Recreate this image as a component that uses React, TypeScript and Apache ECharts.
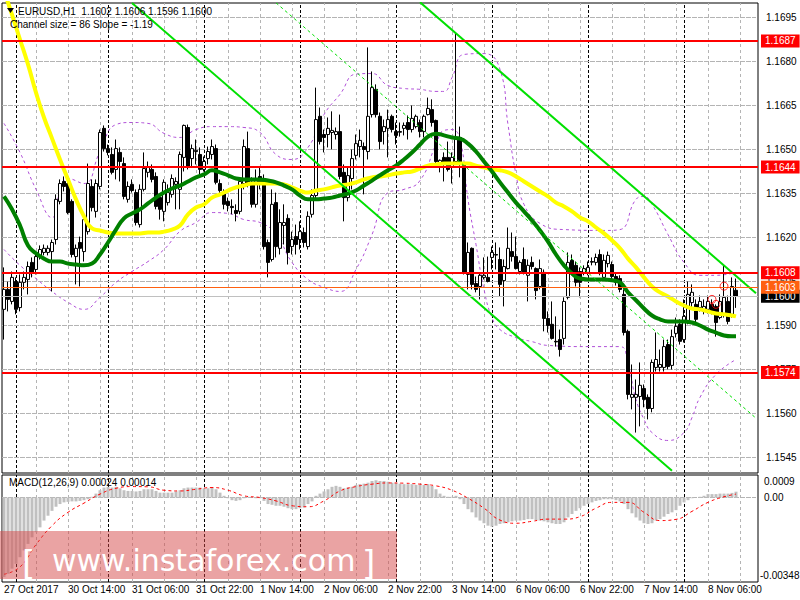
import { useEffect, useRef } from 'react';
import * as echarts from 'echarts';

// ---------- data ----------
const tradingDays: [string, number, number][] = [
  ['27 Oct', 21, 23], ['30 Oct', 1, 23], ['31 Oct', 0, 23], ['1 Nov', 0, 23], ['2 Nov', 0, 23],
  ['3 Nov', 0, 23], ['6 Nov', 0, 23], ['7 Nov', 0, 23], ['8 Nov', 0, 18],
];
const firstDateLabel = '27 Oct 2017';

const opens = [
  1.15955, 1.16023, 1.15982, 1.16050, 1.15961, 1.16047, 1.16057, 1.16115, 1.16091, 1.16135,
  1.16149, 1.16149, 1.16152, 1.16193, 1.16323, 1.16391, 1.16384, 1.16323, 1.16135, 1.16183,
  1.16152, 1.16220, 1.16374, 1.16289, 1.16374, 1.16572, 1.16503, 1.16483, 1.16432, 1.16490,
  1.16452, 1.16330, 1.16381, 1.16353, 1.16244, 1.16364, 1.16422, 1.16432, 1.16408, 1.16336,
  1.16289, 1.16319, 1.16347, 1.16381, 1.16364, 1.16473, 1.16575, 1.16469, 1.16493, 1.16483,
  1.16432, 1.16469, 1.16483, 1.16503, 1.16384, 1.16353, 1.16323, 1.16306, 1.16292, 1.16289,
  1.16384, 1.16503, 1.16388, 1.16313, 1.16408, 1.16401, 1.16183, 1.16125, 1.16319, 1.16163,
  1.16241, 1.16265, 1.16169, 1.16203, 1.16193, 1.16217, 1.16169, 1.16279, 1.16343, 1.16613,
  1.16551, 1.16551, 1.16558, 1.16551, 1.16561, 1.16422, 1.16336, 1.16401, 1.16480, 1.16510,
  1.16510, 1.16493, 1.16619, 1.16705, 1.16613, 1.16561, 1.16572, 1.16613, 1.16561, 1.16561,
  1.16572, 1.16592, 1.16568, 1.16578, 1.16592, 1.16561, 1.16619, 1.16636, 1.16599, 1.16452,
  1.16473, 1.16473, 1.16442, 1.16459, 1.16541, 1.16449, 1.16074, 1.16163, 1.16043, 1.16033,
  1.16064, 1.16064, 1.16132, 1.16142, 1.16125, 1.16053, 1.16094, 1.16152, 1.16135, 1.16084,
  1.16125, 1.16071, 1.16115, 1.16094, 1.16033, 1.16081, 1.15924, 1.15904, 1.15846, 1.15852,
  1.15856, 1.15996, 1.16122, 1.16105, 1.16084, 1.16081, 1.16081, 1.16118, 1.16115, 1.16142,
  1.16064, 1.16111, 1.16108, 1.16067, 1.16060, 1.16006, 1.15880, 1.15655, 1.15655, 1.15658,
  1.15685, 1.15655, 1.15617, 1.15757, 1.15757, 1.15757, 1.15835, 1.15764, 1.15873, 1.15904,
  1.15852, 1.15914, 1.15978, 1.15972, 1.15961, 1.15948, 1.15955, 1.15972, 1.15965, 1.15927,
  1.15938, 1.15982, 1.15938, 1.16020,
];
const closes = [
  1.16023, 1.15989, 1.16064, 1.15955, 1.16047, 1.16064, 1.16101, 1.16081, 1.16135, 1.16159,
  1.16163, 1.16163, 1.16183, 1.16330, 1.16384, 1.16374, 1.16285, 1.16142, 1.16163, 1.16163,
  1.16261, 1.16384, 1.16302, 1.16384, 1.16558, 1.16503, 1.16490, 1.16422, 1.16503, 1.16459,
  1.16340, 1.16374, 1.16360, 1.16251, 1.16364, 1.16435, 1.16442, 1.16398, 1.16306, 1.16296,
  1.16388, 1.16353, 1.16401, 1.16391, 1.16483, 1.16582, 1.16442, 1.16503, 1.16497, 1.16432,
  1.16459, 1.16493, 1.16510, 1.16388, 1.16360, 1.16313, 1.16309, 1.16302, 1.16282, 1.16391,
  1.16510, 1.16384, 1.16313, 1.16394, 1.16381, 1.16169, 1.16115, 1.16313, 1.16169, 1.16251,
  1.16251, 1.16149, 1.16193, 1.16176, 1.16220, 1.16183, 1.16272, 1.16343, 1.16602, 1.16527,
  1.16541, 1.16572, 1.16565, 1.16561, 1.16408, 1.16336, 1.16411, 1.16469, 1.16520, 1.16531,
  1.16500, 1.16613, 1.16711, 1.16619, 1.16527, 1.16578, 1.16602, 1.16568, 1.16548, 1.16559,
  1.16582, 1.16568, 1.16606, 1.16613, 1.16561, 1.16613, 1.16640, 1.16592, 1.16459, 1.16463,
  1.16456, 1.16432, 1.16473, 1.16541, 1.16449, 1.16081, 1.16149, 1.16040, 1.16023, 1.16071,
  1.16071, 1.16050, 1.16149, 1.16140, 1.16040, 1.16101, 1.16163, 1.16135, 1.16094, 1.16115,
  1.16081, 1.16105, 1.16101, 1.16019, 1.16094, 1.15924, 1.15900, 1.15856, 1.15844, 1.15818,
  1.15982, 1.16115, 1.16081, 1.16047, 1.16047, 1.16094, 1.16098, 1.16116, 1.16132, 1.16081,
  1.16122, 1.16139, 1.16067, 1.16047, 1.16023, 1.15876, 1.15665, 1.15665, 1.15665, 1.15696,
  1.15648, 1.15617, 1.15774, 1.15784, 1.15767, 1.15828, 1.15760, 1.15862, 1.15897, 1.15846,
  1.15931, 1.16006, 1.16013, 1.15921, 1.15982, 1.15965, 1.15982, 1.15948, 1.15910, 1.15982,
  1.15996, 1.15914, 1.16033, 1.16000,
];
const highs = [
  1.16098, 1.16050, 1.16084, 1.16064, 1.16074, 1.16084, 1.16118, 1.16132, 1.16152, 1.16173,
  1.16176, 1.16173, 1.16193, 1.16347, 1.16398, 1.16408, 1.16415, 1.16330, 1.16176, 1.16203,
  1.16279, 1.16452, 1.16398, 1.16398, 1.16568, 1.16582, 1.16517, 1.16507, 1.16534, 1.16507,
  1.16473, 1.16391, 1.16398, 1.16364, 1.16381, 1.16490, 1.16459, 1.16449, 1.16422, 1.16347,
  1.16398, 1.16381, 1.16415, 1.16405, 1.16493, 1.16585, 1.16585, 1.16517, 1.16534, 1.16507,
  1.16476, 1.16510, 1.16534, 1.16517, 1.16398, 1.16364, 1.16336, 1.16330, 1.16313, 1.16405,
  1.16534, 1.16561, 1.16405, 1.16432, 1.16439, 1.16415, 1.16193, 1.16364, 1.16353, 1.16296,
  1.16313, 1.16279, 1.16220, 1.16244, 1.16255, 1.16234, 1.16289, 1.16364, 1.16711, 1.16643,
  1.16568, 1.16609, 1.16630, 1.16575, 1.16619, 1.16449, 1.16439, 1.16500, 1.16551, 1.16568,
  1.16524, 1.16848, 1.16766, 1.16722, 1.16626, 1.16602, 1.16636, 1.16619, 1.16592, 1.16592,
  1.16592, 1.16616, 1.16650, 1.16619, 1.16602, 1.16619, 1.16677, 1.16671, 1.16602, 1.16466,
  1.16490, 1.16527, 1.16490, 1.16899, 1.16578, 1.16456, 1.16183, 1.16166, 1.16067, 1.16081,
  1.16132, 1.16135, 1.16169, 1.16183, 1.16166, 1.16125, 1.16234, 1.16217, 1.16203, 1.16122,
  1.16166, 1.16125, 1.16135, 1.16098, 1.16125, 1.16091, 1.15948, 1.15982, 1.15931, 1.15886,
  1.15996, 1.16149, 1.16142, 1.16118, 1.16098, 1.16105, 1.16118, 1.16132, 1.16145, 1.16159,
  1.16142, 1.16152, 1.16118, 1.16077, 1.16071, 1.16023, 1.15886, 1.15767, 1.15716, 1.15774,
  1.15699, 1.15665, 1.15784, 1.15876, 1.15818, 1.15852, 1.15852, 1.15886, 1.15927, 1.15921,
  1.15989, 1.16050, 1.16040, 1.15989, 1.16002, 1.15989, 1.16002, 1.15989, 1.15972, 1.16006,
  1.16105, 1.16002, 1.16064, 1.16060,
];
const lows = [
  1.15852, 1.15948, 1.15972, 1.15938, 1.15948, 1.16023, 1.16006, 1.16064, 1.16074, 1.16125,
  1.16139, 1.16139, 1.16016, 1.16176, 1.16313, 1.16357, 1.16279, 1.16132, 1.16040, 1.16033,
  1.16118, 1.16210, 1.16289, 1.16268, 1.16364, 1.16493, 1.16480, 1.16415, 1.16398, 1.16391,
  1.16330, 1.16319, 1.16353, 1.16241, 1.16234, 1.16357, 1.16405, 1.16388, 1.16296, 1.16261,
  1.16255, 1.16309, 1.16336, 1.16296, 1.16296, 1.16425, 1.16432, 1.16439, 1.16449, 1.16415,
  1.16425, 1.16449, 1.16466, 1.16381, 1.16347, 1.16296, 1.16289, 1.16279, 1.16255, 1.16279,
  1.16364, 1.16371, 1.16302, 1.16302, 1.16364, 1.16159, 1.16064, 1.16118, 1.16132, 1.16142,
  1.16176, 1.16108, 1.16142, 1.16142, 1.16159, 1.16166, 1.16159, 1.16268, 1.16330, 1.16517,
  1.16490, 1.16507, 1.16500, 1.16534, 1.16398, 1.16255, 1.16323, 1.16364, 1.16466, 1.16473,
  1.16347, 1.16466, 1.16609, 1.16609, 1.16500, 1.16517, 1.16473, 1.16558, 1.16517, 1.16544,
  1.16548, 1.16534, 1.16558, 1.16572, 1.16541, 1.16541, 1.16616, 1.16578, 1.16442, 1.16422,
  1.16391, 1.16425, 1.16384, 1.16449, 1.16405, 1.16074, 1.16023, 1.16023, 1.16013, 1.15989,
  1.16057, 1.16047, 1.16091, 1.16091, 1.15999, 1.15965, 1.16091, 1.16118, 1.16091, 1.16074,
  1.16074, 1.15982, 1.16091, 1.15989, 1.16023, 1.15880, 1.15876, 1.15852, 1.15828, 1.15794,
  1.15835, 1.15989, 1.16071, 1.16033, 1.15996, 1.16071, 1.16071, 1.16105, 1.16105, 1.16071,
  1.16057, 1.16098, 1.16057, 1.16036, 1.16013, 1.15866, 1.15648, 1.15614, 1.15535, 1.15556,
  1.15621, 1.15580, 1.15604, 1.15743, 1.15743, 1.15743, 1.15750, 1.15750, 1.15859, 1.15835,
  1.15842, 1.15904, 1.15955, 1.15910, 1.15948, 1.15938, 1.15941, 1.15938, 1.15862, 1.15921,
  1.15927, 1.15904, 1.15927, 1.15960,
];

// moving averages, read every second bar (last value = last bar)
const maSlow = [
  1.17042, 1.16960, 1.16875, 1.16790, 1.16694, 1.16609, 1.16538, 1.16466, 1.16398, 1.16330,
  1.16272, 1.16231, 1.16224, 1.16217, 1.16214, 1.16214, 1.16214, 1.16214, 1.16217, 1.16217,
  1.16220, 1.16227, 1.16241, 1.16279, 1.16302, 1.16313, 1.16336, 1.16347, 1.16360, 1.16371,
  1.16377, 1.16384, 1.16384, 1.16384, 1.16384, 1.16381, 1.16371, 1.16360, 1.16353, 1.16360,
  1.16364, 1.16371, 1.16377, 1.16381, 1.16388, 1.16398, 1.16405, 1.16408, 1.16412, 1.16418,
  1.16422, 1.16425, 1.16435, 1.16445, 1.16449, 1.16452, 1.16452, 1.16452, 1.16452, 1.16445,
  1.16439, 1.16432, 1.16429, 1.16422, 1.16408, 1.16391, 1.16374, 1.16357, 1.16340, 1.16319,
  1.16306, 1.16289, 1.16268, 1.16255, 1.16234, 1.16214, 1.16190, 1.16163, 1.16128, 1.16098,
  1.16064, 1.16033, 1.16013, 1.15999, 1.15982, 1.15968, 1.15958, 1.15955, 1.15948, 1.15941,
  1.15938, 1.15934, 1.15931,
];
const maFast = [
  1.16340, 1.16296, 1.16241, 1.16173, 1.16146, 1.16128, 1.16118, 1.16118, 1.16111, 1.16108,
  1.16105, 1.16111, 1.16142, 1.16183, 1.16227, 1.16265, 1.16282, 1.16296, 1.16316, 1.16336,
  1.16353, 1.16367, 1.16377, 1.16391, 1.16405, 1.16415, 1.16429, 1.16422, 1.16412, 1.16401,
  1.16398, 1.16398, 1.16398, 1.16394, 1.16388, 1.16377, 1.16364, 1.16343, 1.16330, 1.16330,
  1.16333, 1.16336, 1.16343, 1.16350, 1.16360, 1.16377, 1.16394, 1.16412, 1.16429, 1.16445,
  1.16466, 1.16490, 1.16517, 1.16544, 1.16554, 1.16548, 1.16541, 1.16537, 1.16520, 1.16493,
  1.16459, 1.16425, 1.16388, 1.16353, 1.16319, 1.16289, 1.16258, 1.16224, 1.16186, 1.16142,
  1.16105, 1.16077, 1.16060, 1.16057, 1.16057, 1.16057, 1.16054, 1.16047, 1.16013, 1.15986,
  1.15958, 1.15934, 1.15921, 1.15914, 1.15914, 1.15914, 1.15910, 1.15900, 1.15886, 1.15876,
  1.15866, 1.15863, 1.15863,
];

// envelope bands: [bar index, price]
const bandUpper = [
  [0, 1.16589], [4, 1.16490], [8, 1.16364], [12, 1.16268], [14, 1.16357], [16, 1.16401], [20, 1.16384],
  [24, 1.16493], [28, 1.16585], [32, 1.16592], [36, 1.16589], [40, 1.16555], [44, 1.16541], [48, 1.16568],
  [52, 1.16578], [56, 1.16578], [60, 1.16575], [64, 1.16558], [68, 1.16483], [72, 1.16466], [76, 1.16507],
  [80, 1.16619], [84, 1.16688], [88, 1.16757], [92, 1.16759], [96, 1.16718], [100, 1.16708], [104, 1.16705],
  [108, 1.16698], [110, 1.16698], [112, 1.16745], [115, 1.16824], [120, 1.16827], [124, 1.16773],
  [126, 1.16585], [128, 1.16415], [130, 1.16313], [134, 1.16248], [140, 1.16227], [150, 1.16224],
  [154, 1.16227], [158, 1.16330], [160, 1.16340], [162, 1.16313], [166, 1.16210], [170, 1.16115],
  [174, 1.16071], [178, 1.16071], [183, 1.16081],
];
const bandLower = [
  [0, 1.16159], [4, 1.16105], [8, 1.16060], [12, 1.16016], [16, 1.15979], [20, 1.15955], [24, 1.15996],
  [28, 1.16047], [32, 1.16084], [36, 1.16118], [40, 1.16159], [44, 1.16221], [48, 1.16251], [52, 1.16285],
  [56, 1.16282], [60, 1.16261], [64, 1.16251], [68, 1.16210], [72, 1.16115], [76, 1.16057], [80, 1.16030],
  [84, 1.16016], [88, 1.16091], [92, 1.16210], [96, 1.16353], [100, 1.16364], [104, 1.16394], [108, 1.16517],
  [110, 1.16565], [112, 1.16568], [114, 1.16534], [116, 1.16330], [118, 1.16176], [120, 1.16023],
  [122, 1.15927], [124, 1.15886], [128, 1.15859], [132, 1.15845], [136, 1.15832], [146, 1.15828],
  [154, 1.15828], [156, 1.15767], [158, 1.15648], [160, 1.15580], [162, 1.15535], [166, 1.15508],
  [170, 1.15535], [172, 1.15586], [174, 1.15655], [178, 1.15733], [183, 1.15784],
];

// regression channel: [bar index, price] end points
const channelUpper = [[104, 1.17002], [188, 1.16010]];
const channelMiddle = [[68, 1.17000], [188, 1.15584]];
const channelLower = [[32, 1.16999], [167, 1.15405]];

const redLevels = [1.1687, 1.1644, 1.1608, 1.1574];
const pendingLevel = 1.1603;
const bidLevel = 1.16;
const fractalMarks = [[177, 1.15989], [178, 1.15972], [180, 1.16034]];

const priceTicks = [1.1545, 1.156, 1.1575, 1.159, 1.1605, 1.162, 1.1635, 1.165, 1.1665, 1.168, 1.1695];
const macdZero = [0];
const macdAxisLabels = ['0.0009', '0.00', '-0.00348'];

const macdHist = [
  -0.00327, -0.00314, -0.00293, -0.00273, -0.00246, -0.00218, -0.00191, -0.00164, -0.00143, -0.00123,
  -0.00095, -0.00075, -0.00055, -0.00038, -0.00027, -0.00020, -0.00018, -0.00016, -0.00016, -0.00014,
  -0.00011, -0.00007, 0.00003, 0.00016, 0.00030, 0.00041, 0.00044, 0.00041, 0.00044, 0.00038,
  0.00030, 0.00027, 0.00027, 0.00025, 0.00027, 0.00034, 0.00034, 0.00034, 0.00027, 0.00020,
  0.00020, 0.00020, 0.00020, 0.00025, 0.00030, 0.00038, 0.00041, 0.00041, 0.00041, 0.00041,
  0.00038, 0.00038, 0.00041, 0.00034, 0.00020, 0.00007, -0.00003, -0.00011, -0.00014, -0.00011,
  -0.00003, 0.00003, 0.00000, -0.00003, -0.00003, -0.00014, -0.00027, -0.00030, -0.00034, -0.00034,
  -0.00038, -0.00044, -0.00048, -0.00048, -0.00044, -0.00041, -0.00027, -0.00016, 0.00007, 0.00016,
  0.00025, 0.00034, 0.00044, 0.00048, 0.00044, 0.00038, 0.00041, 0.00044, 0.00052, 0.00055,
  0.00057, 0.00061, 0.00068, 0.00071, 0.00068, 0.00068, 0.00065, 0.00061, 0.00059, 0.00057,
  0.00055, 0.00055, 0.00055, 0.00052, 0.00052, 0.00052, 0.00055, 0.00048, 0.00034, 0.00016,
  0.00007, 0.00003, 0.00003, 0.00007, -0.00007, -0.00027, -0.00048, -0.00061, -0.00082, -0.00095,
  -0.00106, -0.00116, -0.00120, -0.00116, -0.00109, -0.00106, -0.00102, -0.00098, -0.00095, -0.00095,
  -0.00093, -0.00089, -0.00089, -0.00093, -0.00095, -0.00098, -0.00102, -0.00106, -0.00109, -0.00109,
  -0.00102, -0.00082, -0.00068, -0.00055, -0.00044, -0.00034, -0.00027, -0.00020, -0.00014, -0.00011,
  -0.00007, -0.00007, -0.00007, -0.00011, -0.00016, -0.00027, -0.00048, -0.00065, -0.00082, -0.00095,
  -0.00106, -0.00109, -0.00106, -0.00095, -0.00089, -0.00079, -0.00068, -0.00061, -0.00052, -0.00034,
  -0.00020, -0.00011, -0.00003, 0.00000, 0.00003, 0.00007, 0.00014, 0.00014, 0.00014, 0.00016,
  0.00016, 0.00016, 0.00019, 0.00024,
];
// signal line read every fourth bar (last value = last bar)
const macdSignal = [
  -0.00316, -0.00286, -0.00194, -0.00116, -0.00061, -0.00023, 0.00014, 0.00038, 0.00045, 0.00044,
  0.00030, 0.00027, 0.00034, 0.00041, 0.00030, 0.00007, 0.00000, -0.00014, -0.00034, -0.00038,
  -0.00014, 0.00027, 0.00045, 0.00055, 0.00060, 0.00059, 0.00055, 0.00048, 0.00030, -0.00003,
  -0.00044, -0.00093, -0.00106, -0.00098, -0.00089, -0.00089, -0.00079, -0.00044, -0.00020, -0.00020,
  -0.00061, -0.00095, -0.00090, -0.00057, -0.00020, 0.00003, 0.00014,
];

// ---------- derived structures ----------
const categories: string[] = [];
const dayStarts: number[] = [];
tradingDays.forEach(([d, a, b], k) => {
  if (k > 0) dayStarts.push(categories.length);
  for (let h = a; h <= b; h++) categories.push(`${d} ${String(h).padStart(2, '0')}:00`);
});
const lastBar = opens.length - 1;
const lastCat = categories.length - 1;
const gridBars: number[] = [];
for (let i = 8; i < categories.length; i += 8) gridBars.push(i);

const candles = opens.map((o, i) => [o, closes[i], lows[i], highs[i]]);
const sparse = (arr: number[], step: number) =>
  arr.map((v, k) => [k < arr.length - 1 ? k * step : lastBar, v]);

const FONT = 'Liberation Sans';

const hLine = (v: number, color: string, width: number, boxColor: string) => ({
  yAxis: v,
  lineStyle: { color, width, type: 'solid' },
  label: {
    show: true,
    position: 'end',
    distance: 3,
    formatter: () => v.toFixed(4),
    backgroundColor: boxColor,
    color: '#fff',
    padding: [2, 4, 1, 4],
    fontSize: 10,
    fontFamily: FONT,
  },
});

export default function App() {
  const ref = useRef<HTMLDivElement>(null);
  useEffect(() => {
    if (!ref.current) return;
    const chart = echarts.init(ref.current, undefined, { renderer: 'svg' });
    const blank = { show: false };
    const hidden = { opacity: 0, width: 0 };
    const gridLine = { color: '#B4B4B4', width: 1, type: [3, 3] };
    const hGridSeries = (v: number, axis: number) => ({
      type: 'line', xAxisIndex: axis, yAxisIndex: axis, data: [[0, v], [lastCat, v]], silent: true,
      showSymbol: false, symbol: 'none', z: 1, lineStyle: gridLine,
    });
    const option: any = {
      animation: false,
      backgroundColor: '#ffffff',
      textStyle: { fontFamily: FONT },
      grid: [
        { left: 2, top: 3, width: 756, height: 470, show: true, borderColor: '#000', borderWidth: 1, backgroundColor: 'transparent' },
        { left: 2, top: 475, width: 756, height: 107, show: true, borderColor: '#000', borderWidth: 1, backgroundColor: 'transparent' },
      ],
      xAxis: [
        { type: 'category', gridIndex: 0, data: categories, boundaryGap: true, axisLine: blank, axisTick: blank, axisLabel: blank, splitLine: blank },
        {
          type: 'category', gridIndex: 1, data: categories, boundaryGap: true, axisLine: blank, axisTick: blank, splitLine: blank,
          axisLabel: {
            interval: 15, align: 'left', margin: 2, fontSize: 10, color: '#000', fontFamily: FONT,
            formatter: (v: string, i: number) => (i === 0 ? firstDateLabel : v),
          },
        },
      ],
      yAxis: [
        {
          type: 'value', gridIndex: 0, position: 'right', min: 1.153971, max: 1.169994,
          axisLine: blank,
          axisTick: { show: false, customValues: priceTicks },
          splitLine: { show: true, lineStyle: gridLine },
          axisLabel: { customValues: priceTicks, formatter: (v: number) => v.toFixed(4), margin: 8, fontSize: 10, color: '#000', fontFamily: FONT },
        },
        {
          type: 'value', gridIndex: 1, position: 'right', min: -0.00348, max: 0.000927,
          axisLine: blank,
          axisTick: { show: false, customValues: macdZero },
          splitLine: { show: true, lineStyle: gridLine },
          axisLabel: blank,
        },
      ],
      series: [
        ...priceTicks.map((v) => hGridSeries(v, 0)),
        hGridSeries(0, 1),
        {
          name: 'vgrid-main', type: 'line', xAxisIndex: 0, yAxisIndex: 0, data: closes, silent: true,
          showSymbol: false, lineStyle: hidden,
          markLine: {
            silent: true, symbol: ['none', 'none'], label: blank, animation: false, z: 1,
            lineStyle: gridLine,
            data: gridBars.map((i) => ({ xAxis: i })),
          },
        },
        {
          name: 'sep-main', type: 'line', xAxisIndex: 0, yAxisIndex: 0, data: closes, silent: true,
          showSymbol: false, lineStyle: hidden,
          markLine: {
            silent: true, symbol: ['none', 'none'], label: blank, animation: false, z: 1,
            lineStyle: { color: '#000', width: 1, type: [3, 2] },
            data: dayStarts.map((i) => ({ xAxis: i })),
          },
        },
        {
          name: 'band upper', type: 'line', xAxisIndex: 0, yAxisIndex: 0, data: bandUpper, smooth: true,
          showSymbol: false, z: 2, lineStyle: { color: '#B050D8', width: 1, type: [3, 3] },
        },
        {
          name: 'band lower', type: 'line', xAxisIndex: 0, yAxisIndex: 0, data: bandLower, smooth: true,
          showSymbol: false, z: 2, lineStyle: { color: '#B050D8', width: 1, type: [3, 3] },
        },
        {
          name: 'EURUSD', type: 'candlestick', xAxisIndex: 0, yAxisIndex: 0, data: candles, barWidth: 3, z: 3,
          itemStyle: { color: '#ffffff', color0: '#000000', borderColor: '#000000', borderColor0: '#000000', borderWidth: 1 },
        },
        {
          name: 'MA slow', type: 'line', xAxisIndex: 0, yAxisIndex: 0, data: sparse(maSlow, 2), smooth: true,
          showSymbol: false, z: 4, lineStyle: { color: '#FFFF00', width: 4 },
        },
        {
          name: 'MA fast', type: 'line', xAxisIndex: 0, yAxisIndex: 0, data: sparse(maFast, 2), smooth: true,
          showSymbol: false, z: 4, lineStyle: { color: '#008000', width: 4 },
        },
        {
          name: 'channel upper', type: 'line', xAxisIndex: 0, yAxisIndex: 0, data: channelUpper,
          showSymbol: false, z: 5, lineStyle: { color: '#00E000', width: 2 },
        },
        {
          name: 'channel lower', type: 'line', xAxisIndex: 0, yAxisIndex: 0, data: channelLower,
          showSymbol: false, z: 5, lineStyle: { color: '#00E000', width: 2 },
        },
        {
          name: 'channel middle', type: 'line', xAxisIndex: 0, yAxisIndex: 0, data: channelMiddle,
          showSymbol: false, z: 5, lineStyle: { color: '#00E000', width: 1, type: [3, 3] },
        },
        {
          name: 'levels', type: 'line', xAxisIndex: 0, yAxisIndex: 0, data: closes, silent: true,
          showSymbol: false, lineStyle: hidden,
          markLine: {
            silent: true, symbol: ['none', 'none'], animation: false, z: 10, precision: 6,
            data: [
              hLine(bidLevel, '#C0C0C0', 1, '#000000'),
              hLine(pendingLevel, '#FF6010', 1, '#FF6010'),
              ...redLevels.map((v) => hLine(v, '#FF0000', 2, '#FF0000')),
            ],
          },
        },
        {
          name: 'fractals', type: 'scatter', xAxisIndex: 0, yAxisIndex: 0, data: fractalMarks, z: 11,
          symbol: 'circle', symbolSize: 8,
          itemStyle: { color: 'transparent', borderColor: '#FF0000', borderWidth: 1 },
        },
        {
          name: 'vgrid-macd', type: 'line', xAxisIndex: 1, yAxisIndex: 1, data: macdHist, silent: true,
          showSymbol: false, lineStyle: hidden,
          markLine: {
            silent: true, symbol: ['none', 'none'], label: blank, animation: false, z: 1,
            lineStyle: gridLine,
            data: gridBars.map((i) => ({ xAxis: i })),
          },
        },
        {
          name: 'sep-macd', type: 'line', xAxisIndex: 1, yAxisIndex: 1, data: macdHist, silent: true,
          showSymbol: false, lineStyle: hidden,
          markLine: {
            silent: true, symbol: ['none', 'none'], label: blank, animation: false, z: 1,
            lineStyle: { color: '#000', width: 1, type: [3, 2] },
            data: dayStarts.map((i) => ({ xAxis: i })),
          },
        },
        {
          name: 'MACD', type: 'bar', xAxisIndex: 1, yAxisIndex: 1, data: macdHist, barWidth: 3, z: 2,
          itemStyle: { color: '#C0C0C0' },
        },
        {
          name: 'Signal', type: 'line', xAxisIndex: 1, yAxisIndex: 1, data: sparse(macdSignal, 4), smooth: true,
          showSymbol: false, z: 3, lineStyle: { color: '#FF0000', width: 1, type: [3, 3] },
        },
      ],
      graphic: [
        { type: 'polygon', z: 100, shape: { points: [[7, 8], [14, 8], [10.5, 13]] }, style: { fill: '#000' } },
        { type: 'text', z: 100, x: 18, y: 11, style: { text: 'EURUSD,H1  1.1602 1.1606 1.1596 1.1600', fill: '#000', font: `10px "${FONT}"`, verticalAlign: 'middle' } },
        { type: 'text', z: 100, x: 10, y: 24, style: { text: 'Channel size = 86 Slope = -1.19', fill: '#000', font: `10px "${FONT}"`, verticalAlign: 'middle' } },
        { type: 'text', z: 100, x: 9, y: 482, style: { text: 'MACD(12,26,9) 0.00024 0.00014', fill: '#000', font: `10px "${FONT}"`, verticalAlign: 'middle' } },
        { type: 'text', z: 100, x: 764, y: 481, style: { text: macdAxisLabels[0], fill: '#000', font: `10px "${FONT}"`, verticalAlign: 'middle' } },
        { type: 'text', z: 100, x: 764, y: 497, style: { text: macdAxisLabels[1], fill: '#000', font: `10px "${FONT}"`, verticalAlign: 'middle' } },
        { type: 'text', z: 100, x: 760, y: 575, style: { text: macdAxisLabels[2], fill: '#000', font: `10px "${FONT}"`, verticalAlign: 'middle' } },
        { type: 'rect', z: 100, shape: { x: 0, y: 531, width: 397, height: 48 }, style: { fill: 'rgba(214,72,72,0.5)' } },
        { type: 'text', z: 101, x: 22, y: 563, style: { text: '[', fill: '#fff', font: '34px "DejaVu Sans"', verticalAlign: 'middle' } },
        { type: 'text', z: 101, x: 52, y: 560, style: { text: 'www.instaforex.com', fill: '#fff', font: '30px "DejaVu Sans"', verticalAlign: 'middle' } },
        { type: 'text', z: 101, x: 362, y: 563, style: { text: ']', fill: '#fff', font: '34px "DejaVu Sans"', verticalAlign: 'middle' } },
      ],
    };
    chart.setOption(option);
    return () => chart.dispose();
  }, []);
  return <div ref={ref} style={{ width: 800, height: 600, position: 'absolute', left: 0, top: 0 }} />;
}
